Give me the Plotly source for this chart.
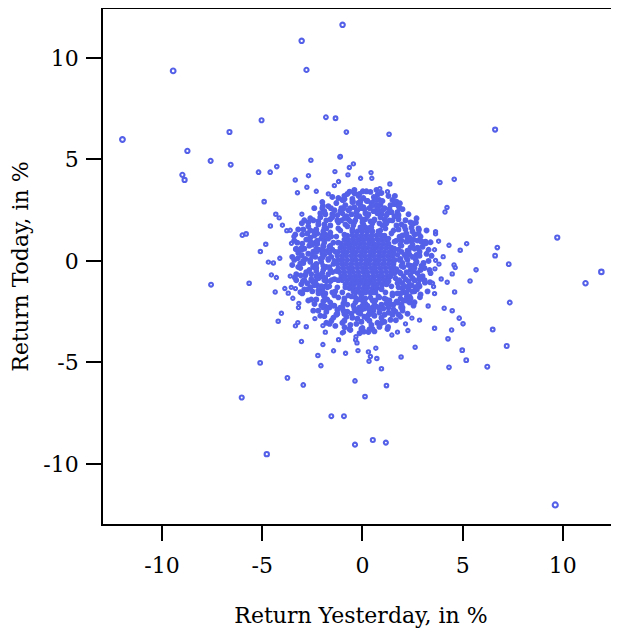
import math
import plotly.graph_objects as go

# ---- scattered (outer) observations: return yesterday / return today, in % ----
outer_x = [-11.97, -9.44, -3.03, -0.99, -2.79, -8.73, -7.57, -6.63, -6.57, -8.98, -8.87, -5.03, -5.18, -4.6, -4.27,
           -3.35, -3.24, -4.9, -4.32, -4.15, -4.59, -3.99, -3.77, -3.6, -3.35, -3.42, -5.99, -5.8, -4.82, -3.54,
           -3.32, -3.07, -5.09, -4.12, -3.22, -4.69, -4.44, -3.1, -3.02, -3.02, -3.02,
           -1.82, -1.34, -0.8, 1.33, 6.62, -2.57, -1.12, -0.45, -0.65, -1.37, 0.43, -0.72, -2.69, -0.09, 0.47,
           -1.19, -1.4, -2.77, -2.3, 1.37, 3.87, 4.58, 1.25, 1.62, 4.22, 4.12, -1.97, -1.1,
           -0.64, -0.39, -0.19, 0.02, 0.2, 0.22, -0.09, -1.0, -0.89, -0.47, 0.7, 0.87, 0.77, 0.72, 0.57, 1.7,
           1.87, 1.8, -1.57, -0.94, -0.09, 0.73,
           -3.74, -2.95, -0.37, 1.2, 0.13, -1.55, -0.92, -0.37, 0.52, 1.17, -3.04, -1.97, -2.22, -2.07, -1.44,
           -0.84, -0.22, 0.3, 0.4, 0.33, 0.72, 0.67, 0.95, 1.93, 2.63, 4.32, 4.98, 5.18, 4.27, 4.45, 3.6, 5.02,
           2.27, 2.15, 1.75, 1.47, 1.28, 0.6, 0.35, 0.07, -0.14, -0.27, -0.34, -0.32, -0.94, -0.89, -1.19, -1.85,
           -1.97, -2.8, -3.34, -3.22, -1.64, -4.2,
           9.72, 11.92, 11.13, 7.35, 6.73, 6.62, 7.3, 5.2, 4.88, 4.32, 5.67, 5.37, 4.6, 4.48, 4.23, 4.63, 4.57,
           4.03, 3.93, 3.82, 3.62, 3.65, 3.8, 3.65, 3.65, 3.4, 3.17, 3.12, 3.55, 3.6, 3.37, 3.28, 4.08, 4.48,
           4.83, 6.5, 7.2, 6.23, 9.62, 2.85, 2.47, 1.67, 2.6, 2.87, 2.72, 2.5, 2.22, 1.93, 2.85, 3.12, 2.82, 2.67,
           -7.55, -5.65, -4.54, -4.29, -4.35, -3.87, -3.7, -3.47, -3.34, -3.09, -3.17, -3.19, -4.04, -2.37,
           -2.39, -2.19, -1.9, -1.97, -1.9, -5.1, -6.02, -4.77, -3.37, -2.97, -3.07]
outer_y = [5.98, 9.36, 10.84, 11.63, 9.41, 5.42, 4.93, 6.35, 4.74, 4.24, 3.99, 6.93, 4.37, 4.37, 4.65,
           3.99, 3.36, 2.92, 2.30, 2.12, 1.72, 1.76, 1.49, 1.51, 1.30, 1.2, 1.27, 1.33, 0.82, 0.87,
           0.58, 0.61, 0.46, 0.13, 0.13, -0.06, -0.1, -0.13, 0.28, 1.86, 2.3,
           7.08, 7.03, 6.35, 6.24, 6.47, 4.96, 5.12, 4.78, 4.6, 4.4, 4.35, 4.24, 4.2, 4.07, 4.07,
           3.91, 3.71, 3.63, 3.43, 3.79, 3.86, 4.02, 3.41, 3.2, 2.63, 2.41, 2.71, 5.14,
           3.41, 3.32, 3.2, 3.43, 3.43, 2.96, 2.96, 3.0, 3.05, 2.92, 3.5, 3.56, 3.28, 3.0, 3.15, 2.92,
           2.84, 2.71, 2.6, 2.6, 2.6, 2.67,
           -5.76, -6.11, -5.91, -6.14, -6.68, -7.65, -7.65, -9.05, -8.82, -8.95, -3.97, -4.12, -4.66, -5.16, -4.43,
           -4.55, -4.42, -4.48, -4.71, -4.94, -4.81, -4.3, -5.31, -4.73, -4.25, -5.24, -4.4, -4.89, -3.84, -3.4, -3.32, -3.1,
           -3.43, -3.1, -3.51, -3.65, -3.25, -3.47, -3.37, -3.48, -3.56, -4.04, -3.89, -3.73, -3.51, -3.27, -3.88, -3.51,
           -3.19, -3.24, -3.2, -3.04, -3.1, -2.97,
           1.15, -0.54, -1.1, -2.05, 0.66, 0.26, -0.16, 0.85, 0.53, 0.77, -0.44, -0.99, -1.53, -0.64, -1.05, -0.33, -0.2,
           0.21, -0.89, -0.16, -0.39, 0.03, 0.97, 1.33, 1.44, 0.92, 0.87, -1.07, -1.27, -1.61, -1.05, -2.22, -2.33, -2.45,
           -2.82, -3.38, -4.19, -5.21, -12.02, -2.92, -2.82, -2.92, -2.04, -1.79, -1.39, -1.51, -1.76, -2.28, -0.92, 0.94, 1.53, 1.89,
           -1.17, -1.1, -0.69, -0.82, -1.53, -1.36, -1.59, -1.84, -1.36, -1.54, -2.09, -2.3, -2.58, -2.84,
           -2.12, -1.59, -1.76, -2.28, -2.72, -5.02, -6.73, -9.52, -0.82, -1.0, -0.72]

# ---- ring of moderately dense observations around the core ----
ring_x = [-1.2, -0.9, -0.6, -0.3, 0.0, 0.3, 0.6, 0.9, 1.2, 1.5, -1.5, -1.1, -0.7, -0.4, 0.1, 0.45, 0.8, 1.1, 1.45, 1.8,
          -1.8, -2.1, -1.7, -1.3, -0.95, -0.5, 0.25, 0.65, 1.0, 1.6, 2.0, -2.4, -2.0, 2.3, -0.15, 0.4, -0.75, 1.3, -1.5, -2.6,
          0.5, -0.45, 0.05, 1.0,
          -1.6, -1.9, -2.2, -1.7, -2.0, -2.4, -2.7, -1.6, -1.9, -2.25, -2.6, -3.0, -1.65, -1.95, -2.3, -2.65, -3.0,
          -1.7, -2.0, -2.35, -2.7, -3.2, -1.65, -1.95, -2.3, -2.6, -2.95, -1.7, -2.0, -2.3, -2.65, -3.1, -1.6, -1.9,
          -2.2, -2.55, -2.85, -1.75, -2.05, -2.4, -2.75, -3.3, -1.5, -1.85, -2.15, -2.5, -2.9, -2.3, -1.95, -2.7,
          -3.4, -3.5, -3.3, -2.45,
          -1.2, -0.9, -0.55, -0.2, 0.15, 0.5, 0.85, 1.2, 1.5, -1.5, -1.1, -0.75, -0.4, 0.0, 0.35, 0.7, 1.05, 1.4, 1.75,
          -1.8, -1.3, -0.9, -0.5, -0.1, 0.25, 0.6, 0.95, 1.3, 1.65, 2.0, -1.55, -1.0, -0.3, 0.45, 1.1, 1.9, -2.1, 0.0,
          -0.65, 0.85, 2.25, -0.05,
          1.8, 2.1, 2.4, 1.85, 2.15, 2.5, 2.8, 1.9, 2.2, 2.55, 2.9, 1.95, 2.25, 2.6, 3.0, 1.9, 2.2, 2.5, 2.85, 3.2,
          1.95, 2.3, 2.65, 3.05, 1.9, 2.2, 2.55, 2.9, 1.85, 2.15, 2.5, 2.85, 1.8, 2.1, 2.45, 2.8, 1.9, 2.2, 2.6,
          2.05, 2.4, 3.1, 3.3, 2.7, 3.4]
ring_y = [1.9, 2.1, 1.95, 2.2, 2.05, 2.3, 2.0, 2.15, 1.85, 2.0, 2.3, 2.45, 2.5, 2.65, 2.55, 2.7, 2.45, 2.6, 2.4, 2.25,
          2.0, 2.35, 2.7, 2.85, 3.0, 3.05, 2.95, 3.1, 2.95, 2.8, 2.55, 2.6, 2.9, 2.3, 3.3, 3.4, 3.3, 3.2, 3.15, 2.1,
          1.85, 1.75, 1.8, 1.75,
          1.4, 1.6, 1.8, 1.1, 1.25, 1.45, 1.7, 0.75, 0.9, 1.0, 1.15, 1.3, 0.4, 0.5, 0.6, 0.75, 0.85,
          0.05, 0.15, 0.2, 0.35, 0.4, -0.3, -0.25, -0.15, -0.05, 0.0, -0.65, -0.6, -0.5, -0.45, -0.35, -1.0, -0.95,
          -0.85, -0.9, -0.7, -1.3, -1.25, -1.2, -1.1, -0.95, -1.55, -1.6, -1.55, -1.5, -1.4, -1.9, -2.0, -1.95,
          1.0, -0.2, 0.6, 2.0,
          -1.8, -1.95, -1.75, -1.9, -1.85, -1.95, -1.8, -1.9, -1.7, -2.2, -2.3, -2.15, -2.35, -2.2, -2.4, -2.25, -2.35, -2.15, -2.05,
          -2.5, -2.65, -2.6, -2.8, -2.6, -2.85, -2.7, -2.8, -2.55, -2.5, -2.3, -2.95, -3.05, -3.1, -3.15, -3.0, -2.75, -2.7, -3.3,
          -3.35, -3.25, -2.6, -1.7,
          1.55, 1.7, 1.9, 1.2, 1.3, 1.45, 1.6, 0.8, 0.95, 1.05, 1.2, 0.45, 0.5, 0.6, 0.7, 0.1, 0.15, 0.2, 0.25, 0.35,
          -0.25, -0.2, -0.15, -0.1, -0.6, -0.55, -0.5, -0.45, -0.95, -0.9, -0.85, -0.8, -1.3, -1.25, -1.2, -1.15, -1.6, -1.55, -1.5,
          -1.95, -1.85, -0.95, 0.0, 2.1, -0.6]

# ---- inner ring, heavily overlapping, just outside the solid core ----
inner_x = [1.75, 1.95, 2.3, 1.7, 2.05, 2.4, 1.6, 2.0, 1.45, 1.7, 1.15, 1.35, 0.85, 0.95, 0.4, 0.55, 0.0, 0.15, -0.35, -0.3,
           -0.75, -0.8, -1.1, -1.25, -1.3, -1.6, -1.45, -1.85, -1.5, -1.95, -1.55, -2.0, -1.45, -2.05, -1.5, -1.95, -1.4, -1.85,
           -1.25, -1.65, -1.0, -1.4, -0.7, -0.95, -0.35, -0.45, 0.0, 0.1, 0.4, 0.5, 0.8, 0.95, 1.15, 1.35, 1.45, 1.75, 1.65, 2.0,
           2.25, 2.45, 2.15, 1.8, 1.25, 0.7, -0.1, -0.6, -1.0, -1.5, -1.9, -2.25, -2.35, -2.45, -2.45, -2.3, -2.25, -1.95,
           -1.6, -1.25, -0.75, -0.2, 0.3, 0.85, 1.3, 1.7, 2.1, 2.35, 2.6, 2.7, 2.75,
           1.6, 1.55, 1.6, 1.3, 0.95, 0.5, 0.05, -0.45, -0.85, -1.2, -1.3, -1.4, -1.35, -1.2, -0.9, -0.5, -0.05, 0.45, 0.9,
           1.3, 1.5]
inner_y = [0.3, 0.75, 0.45, -0.4, -0.3, -0.7, 0.95, 1.25, 1.35, 1.75, 1.6, 2.0, 1.85, 2.3, 1.95, 2.45, 1.9, 2.35, 2.0, 2.4,
           1.7, 2.2, 1.5, 2.0, 1.2, 1.75, 0.9, 1.3, 0.55, 0.75, 0.2, 0.35, -0.15, -0.05, -0.55, -0.45, -0.9, -0.85,
           -1.3, -1.25, -1.55, -1.7, -1.7, -2.1, -1.8, -2.2, -1.95, -2.35, -1.8, -2.3, -1.75, -2.15, -1.55, -1.95, -1.25, -1.6, -0.85, -1.1,
           0.05, 0.95, 1.55, 2.05, 2.35, 2.75, 2.75, 2.6, 2.35, 2.15, 1.8, 1.35, 0.9, 0.45, -0.3, -0.75, -1.2, -1.65,
           -2.05, -2.4, -2.5, -2.55, -2.65, -2.55, -2.3, -2.0, -1.55, -1.2, -0.35, 0.3, 1.0,
           0.6, -0.05, -0.6, -1.0, -1.4, -1.55, -1.55, -1.5, -1.3, -0.95, -0.5, 0.0, 0.45, 0.9, 1.3, 1.55, 1.6, 1.65, 1.5,
           1.1, 0.3]

# ---- additional speckle in the band around the blob ----
band_x = [-0.2, 0.35, 0.9, 1.35, -0.85, -1.4, -1.85, 1.75, 2.15, -2.2, 0.05, -0.55, 0.75, 1.1, -1.05, -0.15, 0.6, -1.2,
          1.5, -2.0, 2.45, -2.6, -0.4, 0.95, -1.7,
          2.6, 2.95, 2.4, 2.85, 2.35, 2.7, 3.1, 2.4, 2.75, 2.3, 2.65, 2.0, 2.9, 3.3, 3.5, 3.2, 2.25, 3.45,
          2.35, 1.95, 1.55, 1.1, 0.55, 0.1, -0.35, -0.8, -1.25, -1.65, -2.05, 1.4, 0.75, -0.05, -0.6, -1.35, 0.25, -0.15,
          0.6, -1.0, 2.55, -2.45, 1.8, 0.3, -1.0,
          -1.75, -2.2, -2.5, -2.15, -2.45, -2.1, -2.5, -2.15, -2.5, -2.05, -2.4, -2.8, -2.85, -2.8, -2.75, -3.05, -3.2,
          -3.05, -3.2, -2.9, -3.5, -3.6, -1.8, -1.75, -1.8, -1.75,
          1.85, 1.8, 1.85, 1.7, 1.55, 1.15, 0.6, 0.15, -0.4, -0.85, -1.2, -1.55, -1.65, -1.7, -1.6, -1.55, -1.35, -0.9,
          -0.35, 0.15, 0.65, 1.1, 1.5, 1.75]
band_y = [2.85, 2.6, 2.75, 2.55, 2.75, 2.5, 2.3, 2.4, 2.0, 1.95, 3.1, 2.3, 2.35, 2.05, 2.0, 2.2, 3.0, 3.1,
          3.0, 2.6, 1.65, 1.5, 3.5, 3.35, 3.3,
          1.3, 0.95, 0.65, 0.45, 0.3, -0.05, -0.35, -0.45, -0.6, -1.0, -1.3, -1.35, -1.65, 0.55, -1.1, 1.5, 1.1, 0.25,
          -1.75, -2.15, -2.4, -2.65, -2.45, -2.75, -2.45, -2.75, -2.6, -2.3, -2.2, -2.9, -3.05, -3.0, -3.15, -3.2, -2.2, -2.3,
          -2.15, -2.3, -2.2, -2.45, -2.65, -3.5, -3.55,
          -1.9, -1.45, -1.0, -0.7, -0.25, 0.1, 0.25, 0.55, 0.8, 1.1, 1.25, 1.05, 0.1, -0.55, -1.4, -1.15, -0.3,
          0.55, 1.55, 2.0, 0.2, -0.75, -0.3, 0.5, -1.0, 1.25,
          0.05, 0.55, -0.55, 1.0, 1.5, 1.9, 2.05, 2.05, 1.9, 1.8, 1.6, 1.2, 0.7, 0.1, -0.45, -0.95, -1.5, -1.85,
          -2.05, -2.1, -1.95, -1.85, -1.6, -1.1]

# ---- second band of speckle, filling gaps around the blob ----
band2_x = [-1.6, -1.25, -0.7, -0.25, 0.25, 0.75, 1.2, 1.6, 1.95, -2.3, -1.95, -0.5, 0.45, 1.0, -1.05, 2.2, -2.1, 0.05,
           1.4, -0.9, 1.85, 2.55, -2.75, 0.85, -1.9,
           2.1, 2.5, 2.05, 2.45, 2.75, 2.95, 2.3, 2.6, 3.0, 3.15, 2.8, 2.35, 1.95, 2.0, 3.35, 2.85, 3.25, 3.6, 2.65, 2.2,
           1.9, 1.55, 1.2, 0.85, 0.45, -0.05, -0.55, -0.95, -1.4, -1.85, -1.45, -0.9, -0.25, 0.35, 0.95, 1.5, 2.0, -2.2,
           -0.6, 0.5, 1.25, -1.8, -0.05, 2.35, -2.55,
           -2.0, -2.35, -1.95, -2.3, -1.9, -2.3, -1.95, -2.25, -1.9, -2.6, -2.6, -2.55, -2.6, -2.9, -2.95, -2.9, -2.95,
           -3.25, -3.3, -3.0, -3.4, -1.85, -1.8, -2.7, -3.55]
band2_y = [2.05, 2.25, 2.05, 2.5, 2.2, 2.6, 2.25, 2.2, 1.8, 1.55, 1.45, 2.9, 2.85, 2.5, 2.6, 1.35, 2.15, 2.65,
           2.75, 3.2, 2.6, 1.85, 1.35, 3.0, 2.45,
           0.3, 0.8, -0.75, -0.25, 0.65, -0.25, -1.4, -0.95, -0.75, 0.95, 1.35, 1.15, 1.0, -0.1, -0.45, -1.25, -1.5, 0.55, 0.1, -1.95,
           -1.85, -2.15, -2.1, -2.35, -2.6, -2.4, -2.6, -2.45, -2.2, -2.25, -2.8, -2.95, -2.85, -2.95, -3.05, -2.65, -2.45, -2.45,
           -3.4, -3.35, -3.35, -3.05, -3.35, -2.05, -1.9,
           -1.45, -1.0, -0.8, -0.35, 0.3, 0.45, 0.7, 0.85, 1.05, 0.95, 0.05, -0.65, -1.3, -0.95, -0.1, 0.6, 1.55,
           0.9, -0.65, -1.6, 0.05, -1.25, 1.6, 1.9, -1.3]

# ---- dense core, read row by row (return today per row, return yesterday values in that row) ----
core_row_today = [1.65, 1.45, 1.25, 1.05, 0.85, 0.65, 0.45, 0.25, 0.05, -0.15, -0.35, -0.55, -0.75, -0.95, -1.15, -1.35, -1.55]
core_row_yesterday = [
    [-0.1, 0.15, 0.4],
    [-0.5, -0.25, 0.0, 0.25, 0.5, 0.8],
    [-0.75, -0.5, -0.3, -0.05, 0.2, 0.45, 0.7, 0.95, 1.1],
    [-0.9, -0.7, -0.45, -0.2, 0.05, 0.3, 0.5, 0.75, 0.95, 1.2],
    [-1.05, -0.8, -0.6, -0.35, -0.1, 0.1, 0.35, 0.55, 0.8, 1.05, 1.3],
    [-1.1, -0.9, -0.65, -0.45, -0.2, 0.05, 0.25, 0.5, 0.7, 0.95, 1.2, 1.45],
    [-1.2, -0.95, -0.75, -0.5, -0.3, -0.05, 0.15, 0.4, 0.6, 0.85, 1.1, 1.35, 1.55],
    [-1.25, -1.0, -0.8, -0.55, -0.35, -0.1, 0.1, 0.35, 0.55, 0.8, 1.0, 1.25, 1.5],
    [-1.2, -1.0, -0.75, -0.5, -0.3, -0.05, 0.2, 0.4, 0.65, 0.85, 1.1, 1.35, 1.6],
    [-1.25, -1.0, -0.8, -0.55, -0.3, -0.1, 0.15, 0.35, 0.6, 0.8, 1.05, 1.3, 1.55],
    [-1.2, -0.95, -0.7, -0.5, -0.25, 0.0, 0.2, 0.45, 0.65, 0.9, 1.15, 1.4, 1.55],
    [-1.15, -0.9, -0.65, -0.45, -0.2, 0.05, 0.25, 0.5, 0.7, 0.95, 1.2, 1.45],
    [-1.05, -0.85, -0.6, -0.35, -0.15, 0.1, 0.3, 0.55, 0.8, 1.0, 1.25, 1.4],
    [-1.0, -0.75, -0.5, -0.3, -0.05, 0.15, 0.4, 0.6, 0.85, 1.1, 1.3],
    [-0.85, -0.6, -0.4, -0.15, 0.1, 0.3, 0.55, 0.75, 1.0, 1.2],
    [-0.65, -0.45, -0.2, 0.05, 0.25, 0.5, 0.7, 0.95],
    [-0.35, -0.1, 0.15, 0.4, 0.65],
]

x_ticks = [-10, -5, 0, 5, 10]
y_ticks = [-10, -5, 0, 5, 10]

core_x = [v for row in core_row_yesterday for v in row]
core_y = [t for t, row in zip(core_row_today, core_row_yesterday) for _ in row]

xs = core_x + inner_x + band_x + band2_x + ring_x + outer_x
ys = core_y + inner_y + band_y + band2_y + ring_y + outer_y
dist = [math.hypot(a, b) for a, b in zip(xs, ys)]
# filled dots near the centre, open rings that grow with distance further out
sizes = [3.5 + 0.1 * d if d < 3.6 else 2.6 + 0.16 * d for d in dist]
symbols = ["circle" if d < 3.6 else "circle-open" for d in dist]

COLOR = "rgb(84,96,232)"
FONT = "DejaVu Serif"

fig = go.Figure(go.Scatter(
    x=xs, y=ys, mode="markers",
    marker=dict(symbol=symbols, size=sizes, color=COLOR, opacity=1,
                line=dict(width=2.1, color=COLOR)),
    hoverinfo="skip",
))

axis_common = dict(
    showgrid=False, zeroline=False, showline=True, linecolor="black", linewidth=1.8,
    ticks="outside", ticklen=15, tickwidth=1.8, tickcolor="black", automargin=False,
    tickfont=dict(family=FONT, size=22, color="black"),
)
# the page body adds an 8px offset, so the figure is sized to the remaining viewport
fig.update_layout(
    width=611, height=624,
    margin=dict(l=95, r=0, t=1, b=108),
    paper_bgcolor="white", plot_bgcolor="white",
    showlegend=False,
    font=dict(family=FONT, size=22, color="black"),
    xaxis=dict(range=[-12.94, 12.8], tickvals=x_ticks, ticktext=[str(v) for v in x_ticks], mirror=True,
               ticklabelstandoff=6,
               title=dict(text="Return Yesterday, in %", font=dict(family=FONT, size=22), standoff=30),
               **axis_common),
    yaxis=dict(range=[-12.96, 12.41], tickvals=y_ticks, ticktext=[str(v) for v in y_ticks],
               ticklabelstandoff=3,
               title=dict(text="Return Today, in %", font=dict(family=FONT, size=22), standoff=9),
               **axis_common),
)
fig.write_html("out.html")
